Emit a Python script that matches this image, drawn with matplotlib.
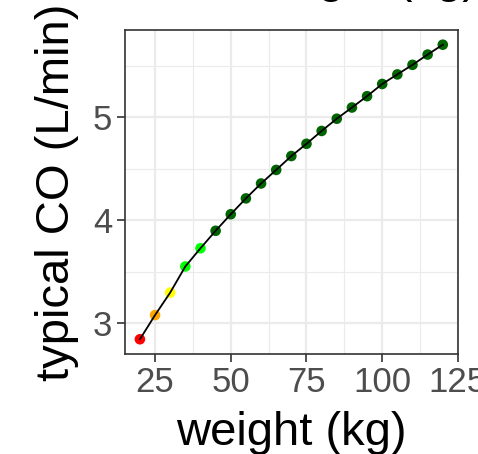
import matplotlib.pyplot as plt
import numpy as np
from matplotlib.ticker import MultipleLocator

plt.rcParams['font.family'] = ['Liberation Sans', 'DejaVu Sans']

weight = [20, 25, 30, 35, 40, 45, 50, 55, 60, 65, 70,
          75, 80, 85, 90, 95, 100, 105, 110, 115, 120]
co = [2.842, 3.077, 3.296, 3.550, 3.727, 3.897, 4.058, 4.212, 4.357, 4.489, 4.624,
      4.743, 4.868, 4.987, 5.096, 5.206, 5.325, 5.418, 5.511, 5.611, 5.707]
point_colors = ['red', 'orange', 'yellow', 'lime', 'lime'] + ['darkgreen'] * 16

fig = plt.figure(figsize=(4.78, 4.54), dpi=100)
ax = fig.add_axes([0.261, 0.2203, 0.697, 0.7137])

ax.scatter(weight, co, c=point_colors, s=58, zorder=3, edgecolors='none')
ax.plot(weight, co, color='black', lw=1.3, zorder=4)

span = max(co) - min(co)
ax.set_xlim(15, 125)
ax.set_ylim(min(co) - 0.05 * span, max(co) + 0.05 * span)

ax.xaxis.set_major_locator(MultipleLocator(25))
ax.xaxis.set_minor_locator(MultipleLocator(12.5))
ax.yaxis.set_major_locator(MultipleLocator(1))
ax.yaxis.set_minor_locator(MultipleLocator(0.5))

ax.grid(which='major', color='#EBEBEB', lw=1.6, zorder=0)
ax.grid(which='minor', color='#EBEBEB', lw=0.8, zorder=0)
ax.set_axisbelow(True)
for s in ax.spines.values():
    s.set_color('#333333')
    s.set_linewidth(1.2)

ax.tick_params(which='major', length=6, width=1.2, color='#333333',
               labelsize=25, labelcolor='#4D4D4D', pad=3)
ax.tick_params(which='minor', length=0)

ax.set_xlabel('weight (kg)', fontsize=34, labelpad=8)
ax.set_ylabel('typical CO (L/min)', fontsize=34, labelpad=10)

# title mostly falls outside the canvas, only descenders show
fig.text(103 / 478, 1 + 8 / 454, 'CO vs weight (kg)', fontsize=34,
         ha='left', va='baseline')

fig.savefig('out.png', dpi=100)
